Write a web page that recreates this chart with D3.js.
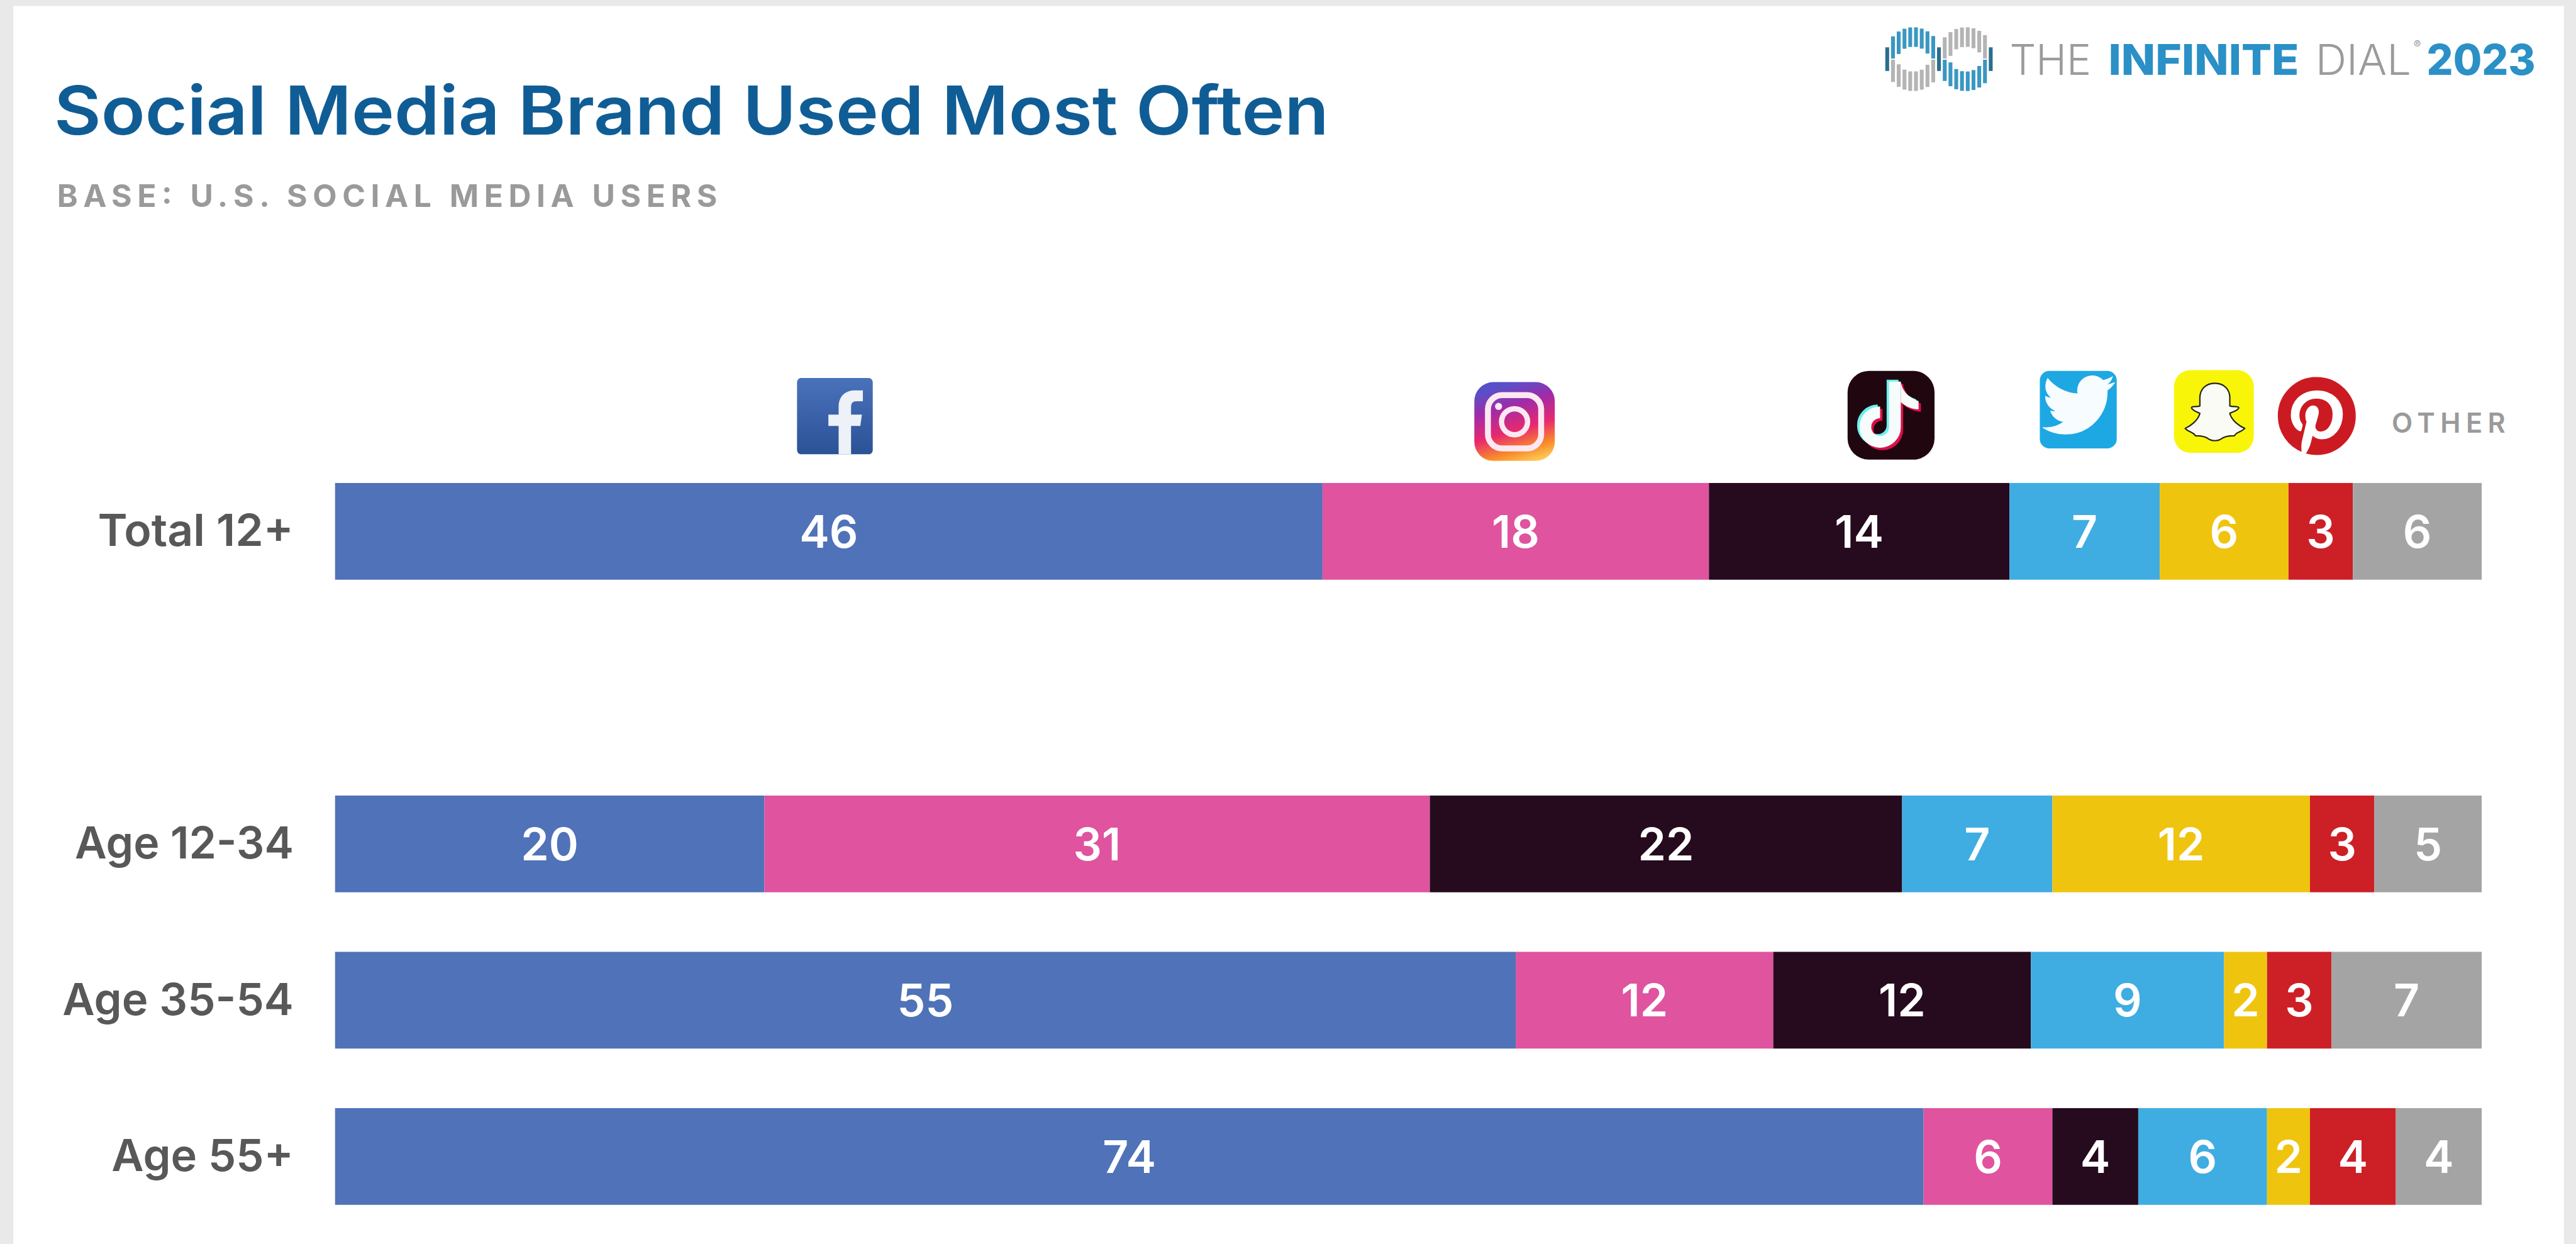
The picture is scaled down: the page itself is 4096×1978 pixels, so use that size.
<!DOCTYPE html>
<html>
<head>
<meta charset="utf-8">
<title>Social Media Brand Used Most Often</title>
<script src="https://cdn.jsdelivr.net/npm/d3@7/dist/d3.min.js"></script>
<style>
  html, body { margin: 0; padding: 0; background: #e9e9e9; }
  svg { display: block; font-family: Inter, "Open Sans", sans-serif; }
</style>
</head>
<body>
<script>
// Survey shares, in percent, one entry per respondent group
const groups = ["Total 12+", "Age 12-34", "Age 35-54", "Age 55+"];
const facebook  = [46, 20, 55, 74];
const instagram = [18, 31, 12, 6];
const tiktok    = [14, 22, 12, 4];
const twitter   = [7, 7, 9, 6];
const snapchat  = [6, 12, 2, 2];
const pinterest = [3, 3, 3, 4];
const other     = [6, 5, 7, 4];

const brands = ["Facebook", "Instagram", "TikTok", "Twitter", "Snapchat", "Pinterest", "Other"];
const brandColors = ["#4f72b8", "#df539f", "#260a1e", "#3fade2", "#efc40f", "#cc2026", "#a4a4a4"];
const seriesValues = [facebook, instagram, tiktok, twitter, snapchat, pinterest, other];

// The slide is laid out in 4354×2103 units and scaled to the window
const W = 4354, H = 2103;
const svg = d3.select("body").append("svg")
  .attr("width", 4096).attr("height", 1978)
  .attr("viewBox", `0 0 ${W} ${H}`);

const defs = svg.append("defs");
const gradient = (id, a, stops) => {
  const g = defs.append("linearGradient").attr("id", id)
    .attr("x1", a[0]).attr("y1", a[1]).attr("x2", a[2]).attr("y2", a[3]);
  stops.forEach(([o, c]) => g.append("stop").attr("offset", o).attr("stop-color", c));
};
gradient("fbFill", [0, 0, 0, 1], [[0, "#4a72bb"], [1, "#2b5196"]]);
gradient("igFill", [0.85, 1, 0.55, 0], [[0, "#fdd35a"], [0.2, "#f98a2a"], [0.45, "#e8286f"], [0.75, "#a02ba8"], [1, "#5a4fc8"]]);

// Slide background and white panel
svg.append("rect").attr("width", W).attr("height", H).attr("fill", "#e9e9e9");
svg.append("rect").attr("x", 22).attr("y", 10).attr("width", 4312).attr("height", H - 10).attr("fill", "#fff");

// Text helper: width is fitted so the running text spans its allotted measure
function label(parent, o) {
  const t = parent.append("text")
    .attr("x", o.x).attr("y", o.y)
    .attr("font-size", o.size).attr("font-weight", o.weight)
    .attr("fill", o.fill)
    .attr("text-anchor", o.anchor || "start")
    .text(o.text);
  if (o.width) t.attr("textLength", o.width).attr("lengthAdjust", o.adjust || "spacingAndGlyphs");
  return t;
}

label(svg, { x: 91, y: 227, size: 114, weight: 600, fill: "#105d96", text: "Social Media Brand Used Most Often", width: 2155 });
label(svg, { x: 96, y: 350, size: 53, weight: 700, fill: "#9a9a9a", text: "BASE: U.S. SOCIAL MEDIA USERS", width: 1116, adjust: "spacing" });

// Stacked bars
const x = d3.scaleLinear().domain([0, 100]).range([566, 4195]);
const slots = [groups[0], "", groups[1], groups[2], groups[3]];
const y = d3.scaleBand().domain(slots).range([766.15, 2087.15])
  .paddingInner(1 - 163.5 / 264.2).paddingOuter((1 - 163.5 / 264.2) / 2);

const table = groups.map((g, i) => {
  const row = { group: g };
  brands.forEach((b, j) => { row[b] = seriesValues[j][i]; });
  return row;
});
const stacked = d3.stack().keys(brands)(table);

const layers = svg.append("g").selectAll("g").data(stacked).join("g")
  .attr("fill", (d, i) => brandColors[i]);
layers.selectAll("rect").data(d => d).join("rect")
  .attr("x", d => x(d[0]))
  .attr("y", d => y(d.data.group))
  .attr("width", d => x(d[1]) - x(d[0]))
  .attr("height", y.bandwidth());
layers.selectAll("text").data(d => d).join("text")
  .attr("x", d => x((d[0] + d[1]) / 2))
  .attr("y", d => y(d.data.group) + y.bandwidth() / 2 + 27.5)
  .attr("text-anchor", "middle")
  .attr("font-size", 76).attr("font-weight", 600).attr("fill", "#fff")
  .text(d => d[1] - d[0]);

// Group labels, right-aligned against the bars
const groupWidths = [331, 370, 391, 308];
svg.append("g").selectAll("text").data(groups).join("text")
  .attr("x", 496)
  .attr("y", d => y(d) + y.bandwidth() / 2 + 25)
  .attr("text-anchor", "end")
  .attr("font-size", 75).attr("font-weight", 600).attr("fill", "#585858")
  .attr("textLength", (d, i) => groupWidths[i])
  .attr("lengthAdjust", "spacingAndGlyphs")
  .text(d => d);

label(svg, { x: 4043, y: 732, size: 46, weight: 600, fill: "#9a9a9a", text: "OTHER", width: 192, adjust: "spacing" });

// Brand marks above the total bar
const fb = svg.append("g").attr("transform", "translate(1347,639)");
fb.append("rect").attr("width", 128).attr("height", 129).attr("rx", 7).attr("fill", "url(#fbFill)");
fb.append("path").attr("fill", "#eef1f7").attr("transform", "translate(-17,-14) scale(0.3333)")
  .attr("d", "M262 428V285H210V228H262V190C262 130 300 105 345 105H385V160H355C330 160 325 170 325 195V228H380L372 285H325V428Z");

const ig = svg.append("g").attr("transform", "translate(2492,646)");
ig.append("rect").attr("width", 136).attr("height", 133).attr("rx", 32).attr("fill", "url(#igFill)");
ig.append("rect").attr("x", 23).attr("y", 22).attr("width", 90).attr("height", 90).attr("rx", 24)
  .attr("fill", "none").attr("stroke", "#fde8f2").attr("stroke-width", 10);
ig.append("circle").attr("cx", 68).attr("cy", 67).attr("r", 22)
  .attr("fill", "none").attr("stroke", "#fde8f2").attr("stroke-width", 9);
ig.append("circle").attr("cx", 41).attr("cy", 41).attr("r", 6).attr("fill", "#fde8f2");

const tt = svg.append("g").attr("transform", "translate(3100,610)");
tt.append("rect").attr("x", 23).attr("y", 17).attr("width", 147).attr("height", 150).attr("rx", 36).attr("fill", "#20060f");
const note = (dx, dy, color) => {
  const n = tt.append("g").attr("transform", `translate(${dx},${dy})`);
  n.append("path").attr("fill", "none").attr("stroke", color).attr("stroke-width", 20)
    .attr("d", "M103 35V112A25 25 0 1 1 78 87");
  n.append("path").attr("fill", color)
    .attr("d", "M113 35C115 50 125 62 143 68V82C130 82 120 76 113 70Z");
};
note(-4, -3, "#69f0ee");
note(4, 4, "#d8104a");
note(0, 0, "#f6fbfb");

const tw = svg.append("g").attr("transform", "translate(3448,627)");
tw.append("rect").attr("width", 130).attr("height", 131).attr("rx", 16).attr("fill", "#1da8e3");
tw.append("path").attr("fill", "#f7fcfe").attr("stroke", "#f7fcfe").attr("stroke-width", 0.25)
  .attr("transform", "translate(5,-3) scale(5.05)")
  .attr("d", "M23.953 4.57a10 10 0 01-2.825.775 4.958 4.958 0 002.163-2.723c-.951.555-2.005.959-3.127 1.184a4.92 4.92 0 00-8.384 4.482C7.69 8.095 4.067 6.13 1.64 3.162a4.822 4.822 0 00-.666 2.475c0 1.71.87 3.213 2.188 4.096a4.904 4.904 0 01-2.228-.616v.06a4.923 4.923 0 003.946 4.827 4.996 4.996 0 01-2.212.085 4.936 4.936 0 004.604 3.417 9.867 9.867 0 01-6.102 2.105c-.39 0-.779-.023-1.17-.067a13.995 13.995 0 007.557 2.209c9.053 0 13.998-7.496 13.998-13.985 0-.21 0-.42-.015-.63A9.935 9.935 0 0024 4.59z");

const sc = svg.append("g").attr("transform", "translate(3660,610) scale(0.329)");
sc.append("rect").attr("x", 45).attr("y", 48).attr("width", 410).attr("height", 425).attr("rx", 85).attr("fill", "#f9f509");
sc.append("path").attr("fill", "#fbfbf6").attr("stroke", "#25251a").attr("stroke-width", 7)
  .attr("d", "M255 115C205 115 178 150 178 190V232C165 238 140 230 135 240C135 255 165 262 178 270C170 305 130 335 103 347C115 365 145 365 155 385C175 385 205 385 225 403C240 413 270 413 285 403C305 385 335 385 355 385C365 365 395 365 408 347C380 335 340 305 332 270C345 262 378 255 378 240C372 230 345 238 332 232V190C332 150 305 115 255 115Z");

svg.append("path").attr("fill", "#cc1a22").attr("stroke", "#fff").attr("stroke-width", 0.4)
  .attr("transform", "translate(3849,636) scale(5.6)")
  .attr("d", "M12.017 0C5.396 0 .029 5.367.029 11.987c0 5.079 3.158 9.417 7.618 11.162-.105-.949-.199-2.403.041-3.439.219-.937 1.406-5.957 1.406-5.957s-.359-.72-.359-1.781c0-1.663.967-2.911 2.168-2.911 1.024 0 1.518.769 1.518 1.688 0 1.029-.653 2.567-.992 3.992-.285 1.193.6 2.165 1.775 2.165 2.128 0 3.768-2.245 3.768-5.487 0-2.861-2.063-4.869-5.008-4.869-3.41 0-5.409 2.562-5.409 5.199 0 1.033.394 2.143.889 2.741.099.12.112.225.085.345-.09.375-.293 1.199-.334 1.363-.053.225-.172.271-.401.165-1.495-.69-2.433-2.878-2.433-4.646 0-3.776 2.748-7.252 7.92-7.252 4.158 0 7.392 2.967 7.392 6.923 0 4.135-2.607 7.462-6.233 7.462-1.214 0-2.354-.629-2.758-1.379l-.749 2.848c-.269 1.045-1.004 2.352-1.498 3.146 1.123.345 2.306.535 3.55.535 6.607 0 11.985-5.365 11.985-11.987C23.97 5.39 18.592.026 11.985.026L12.017 0z");

// Header logo: an infinity sign built from vertical stripes through two rings
const logo = svg.append("g");
const teal = "#3a97c2", greyStripe = "#b4b4b4", darkStripe = "#2b6e8c";
const ringCentres = [3234, 3323], ringY = 100;
const halfOuter = dx => 54 * Math.sqrt(Math.max(0, 1 - (dx / 49) ** 2));
const halfInner = dx => 21 * Math.sqrt(Math.max(0, 1 - (dx / 27) ** 2));
const stripeX = d3.scaleLinear().domain([0, 18]).range([3190, 3365]);
d3.range(19).forEach(i => {
  const sx = stripeX(i);
  const stripe = (y1, y2, color) => logo.append("line")
    .attr("x1", sx).attr("x2", sx).attr("y1", y1).attr("y2", y2)
    .attr("stroke", color).attr("stroke-width", 6.5);
  if (i % 9 === 0) { stripe(ringY - 20, ringY + 20, darkStripe); return; }
  const left = i < 9;
  const dx = sx - ringCentres[left ? 0 : 1];
  const outer = halfOuter(dx), inner = Math.max(1, halfInner(dx));
  stripe(ringY - outer, ringY - inner, left ? teal : greyStripe);
  stripe(ringY + inner, ringY + outer, left ? greyStripe : teal);
});

label(logo, { x: 3397, y: 126, size: 72, weight: 300, fill: "#9b9b9b", text: "THE", width: 138 });
label(logo, { x: 3564, y: 126, size: 72, weight: 800, fill: "#2b90c6", text: "INFINITE", width: 322 });
label(logo, { x: 3914, y: 126, size: 72, weight: 300, fill: "#9b9b9b", text: "DIAL", width: 162 });
label(logo, { x: 4080, y: 82, size: 18, weight: 400, fill: "#9b9b9b", text: "®" });
label(logo, { x: 4102, y: 126, size: 72, weight: 800, fill: "#2b90c6", text: "2023", width: 184 });
</script>
</body>
</html>
